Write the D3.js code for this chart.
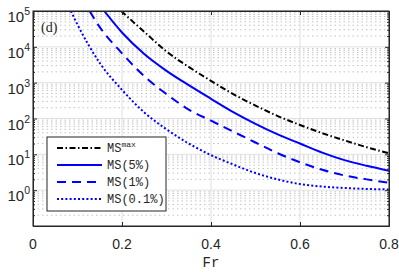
<!DOCTYPE html>
<html>
<head>
<meta charset="utf-8">
<script src="https://cdn.jsdelivr.net/npm/d3@7/dist/d3.min.js"></script>
<style>
  body { margin: 0; background: #fff; }
  .tick text { display: none; }
</style>
</head>
<body>
<svg id="chart" width="399" height="272"></svg>
<script>
// values (Fr on x, MS on a log y axis)
var frMax = [0.198, 0.25, 0.3, 0.35, 0.4, 0.45, 0.5, 0.55, 0.6, 0.65, 0.7, 0.75, 0.8];
var msMax = [100000, 26300, 7400, 2750, 1120, 479, 229, 117, 66, 39, 24.5, 15.8, 10.7];

var fr5 = [0.16, 0.2, 0.25, 0.3, 0.35, 0.4, 0.45, 0.5, 0.55, 0.6, 0.65, 0.7, 0.75, 0.8];
var ms5 = [100000, 25100, 6310, 2140, 850, 355, 151, 71, 36, 20, 11.2, 6.9, 4.8, 3.5];

var fr1 = [0.127, 0.15, 0.2, 0.25, 0.3, 0.35, 0.4, 0.45, 0.5, 0.55, 0.6, 0.65, 0.7, 0.75, 0.8];
var ms1 = [100000, 35500, 6600, 1510, 479, 178, 87, 43, 21.4, 10.7, 6.0, 3.7, 2.57, 2.0, 1.62];

var fr01 = [0.085, 0.1, 0.15, 0.2, 0.25, 0.3, 0.35, 0.4, 0.45, 0.5, 0.55, 0.6, 0.65, 0.7, 0.75, 0.8];
var ms01 = [100000, 41700, 3550, 631, 148, 50, 20, 9.5, 5.2, 3.0, 2.0, 1.48, 1.26, 1.15, 1.08, 1.05];

var xTicks = [0, 0.2, 0.4, 0.6, 0.8];
var xTickLabels = ["0", "0.2", "0.4", "0.6", "0.8"];
var yTicks = [1, 10, 100, 1000, 10000, 100000];
var yTickExps = ["0", "1", "2", "3", "4", "5"];

var seriesNames = ["MS", "MS(5%)", "MS(1%)", "MS(0.1%)"];

var svg = d3.select("#chart");
var pL = 33, pR = 389, pT = 11, pB = 226;

var x = d3.scaleLinear().domain([0, 0.8]).range([pL, pR]);
var y = d3.scaleLog().domain([0.1, 100000]).range([pB, pT]);

// minor grid (log), dotted
var minorVals = [];
[0.1, 1, 10, 100, 1000, 10000].forEach(function(d) {
  for (var k = 2; k <= 9; k++) minorVals.push(d * k);
});
svg.append("g").selectAll("line").data(minorVals).enter().append("line")
  .attr("x1", pL).attr("x2", pR)
  .attr("y1", function(d) { return y(d); }).attr("y2", function(d) { return y(d); })
  .attr("stroke", "#c4c4c4").attr("stroke-width", 1)
  .attr("stroke-dasharray", "1.5,3");

// major grid
svg.append("g").selectAll("line").data(yTicks).enter().append("line")
  .attr("x1", pL).attr("x2", pR)
  .attr("y1", function(d) { return y(d); }).attr("y2", function(d) { return y(d); })
  .attr("stroke", "#e0e0e0").attr("stroke-width", 1);
svg.append("g").selectAll("line").data(xTicks).enter().append("line")
  .attr("x1", function(d) { return x(d); }).attr("x2", function(d) { return x(d); })
  .attr("y1", pT).attr("y2", pB)
  .attr("stroke", "#e0e0e0").attr("stroke-width", 1);

// curves
svg.append("clipPath").attr("id", "clip").append("rect")
  .attr("x", pL).attr("y", pT).attr("width", pR - pL).attr("height", pB - pT);

var line = d3.line()
  .x(function(d) { return x(d[0]); })
  .y(function(d) { return y(d[1]); })
  .curve(d3.curveMonotoneX);

var series = [
  { fr: frMax, ms: msMax, color: "#000000", dash: "6,2.5,1.5,2.5" },
  { fr: fr5, ms: ms5, color: "#0000ff", dash: null },
  { fr: fr1, ms: ms1, color: "#0000ff", dash: "9,6" },
  { fr: fr01, ms: ms01, color: "#0000ff", dash: "2,2.2" }
];

var gLines = svg.append("g").attr("clip-path", "url(#clip)");
series.forEach(function(s) {
  gLines.append("path")
    .datum(d3.zip(s.fr, s.ms))
    .attr("d", line)
    .attr("fill", "none")
    .attr("stroke", s.color)
    .attr("stroke-width", 2)
    .attr("stroke-dasharray", s.dash);
});

// axes, ticks inward, box on
var axisCol = "#262626";
svg.append("g").attr("transform", "translate(0," + pB + ")")
  .call(d3.axisBottom(x).tickValues(xTicks).tickSizeInner(-4).tickSizeOuter(0));
svg.append("g").attr("transform", "translate(0," + pT + ")")
  .call(d3.axisTop(x).tickValues(xTicks).tickSizeInner(-4).tickSizeOuter(0));
svg.append("g").attr("transform", "translate(" + pL + ",0)")
  .call(d3.axisLeft(y).tickValues(yTicks).tickSizeInner(-4).tickSizeOuter(0));
svg.append("g").attr("transform", "translate(" + pR + ",0)")
  .call(d3.axisRight(y).tickValues(yTicks).tickSizeInner(-4).tickSizeOuter(0));
svg.append("g").attr("transform", "translate(" + pL + ",0)")
  .call(d3.axisLeft(y).tickValues(minorVals).tickSizeInner(-2).tickSizeOuter(0));
svg.append("g").attr("transform", "translate(" + pR + ",0)")
  .call(d3.axisRight(y).tickValues(minorVals).tickSizeInner(-2).tickSizeOuter(0));
svg.selectAll(".domain, .tick line").attr("stroke", axisCol);
svg.append("rect").attr("x", pL).attr("y", pT)
  .attr("width", pR - pL).attr("height", pB - pT)
  .attr("fill", "none").attr("stroke", axisCol).attr("stroke-width", 1);

// tick labels
var sans = "'Liberation Sans', Arial, sans-serif";
svg.append("g").selectAll("text").data(xTicks).enter().append("text")
  .attr("x", function(d) { return x(d); })
  .attr("y", 249)
  .attr("text-anchor", "middle")
  .attr("font-family", sans).attr("font-size", 14).attr("fill", axisCol)
  .text(function(d, i) { return xTickLabels[i]; });

var yl = svg.append("g").selectAll("text").data(yTicks).enter().append("text")
  .attr("x", 30)
  .attr("y", function(d) { return y(d) + 11; })
  .attr("text-anchor", "end")
  .attr("font-family", sans).attr("font-size", 15).attr("fill", axisCol);
yl.append("tspan").text("10");
yl.append("tspan").attr("dy", -7).attr("font-size", 10.5)
  .text(function(d, i) { return yTickExps[i]; });

// axis label
svg.append("text").attr("x", x(0.4)).attr("y", 267)
  .attr("text-anchor", "middle")
  .attr("font-family", "'Liberation Mono', monospace").attr("font-size", 14)
  .attr("fill", axisCol).text("Fr");

// panel label
svg.append("text").attr("x", 41).attr("y", 32)
  .attr("font-family", "'Liberation Serif', serif").attr("font-size", 14)
  .attr("fill", axisCol).text("(d)");

// legend
var lg = svg.append("g");
lg.append("rect").attr("x", 47).attr("y", 137).attr("width", 119).attr("height", 74)
  .attr("fill", "#fff").attr("stroke", axisCol).attr("stroke-width", 1);
series.forEach(function(s, i) {
  var yy = 148 + i * 17;
  lg.append("line").attr("x1", 57).attr("x2", 102).attr("y1", yy).attr("y2", yy)
    .attr("stroke", s.color).attr("stroke-width", 2)
    .attr("stroke-dasharray", s.dash);
  var t = lg.append("text").attr("x", 107).attr("y", yy + 4)
    .attr("font-family", "'Liberation Mono', monospace").attr("font-size", 12)
    .attr("fill", axisCol).text(seriesNames[i]);
  if (i === 0) {
    t.append("tspan").attr("dy", -5).attr("font-size", 8).text("max");
  }
});
</script>
</body>
</html>
